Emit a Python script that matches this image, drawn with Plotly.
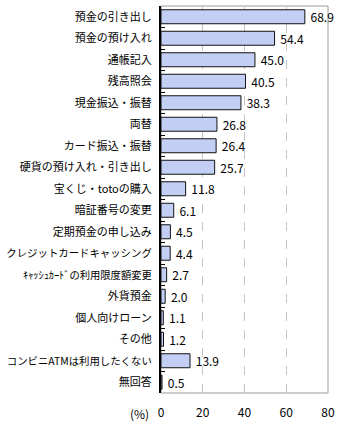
import unicodedata
import plotly.graph_objects as go

categories = [
    "預金の引き出し", "預金の預け入れ", "通帳記入", "残高照会", "現金振込・振替",
    "両替", "カード振込・振替", "硬貨の預け入れ・引き出し", "宝くじ・totoの購入",
    "暗証番号の変更", "定期預金の申し込み", "クレジットカードキャッシング",
    "ｷｬｯｼｭｶｰﾄﾞの利用限度額変更", "外貨預金", "個人向けローン", "その他",
    "コンビニATMは利用したくない", "無回答",
]
values = [68.9, 54.4, 45.0, 40.5, 38.3, 26.8, 26.4, 25.7, 11.8, 6.1, 4.5, 4.4,
          2.7, 2.0, 1.1, 1.2, 13.9, 0.5]
x_ticks = [0, 20, 40, 60, 80]

FONT = "Noto Sans CJK JP"
LABEL_SIZE = 11
AVAIL = 146  # pixels available left of the axis


def est_width(s, size):
    w = 0.0
    for ch in s:
        w += 1.0 if unicodedata.east_asian_width(ch) in ("W", "F") else 0.68
    return w * size


def fit_label(s):
    if est_width(s, LABEL_SIZE) <= AVAIL:
        return s
    size = AVAIL / est_width(s, 1.0)
    return f'<span style="font-size:{size:.1f}px">{s}</span>'


ticktext = [fit_label(c) for c in categories]

fig = go.Figure(go.Bar(
    x=values, y=categories, orientation="h",
    marker=dict(color="#c3cef4", line=dict(color="#111111", width=1)),
    text=values, texttemplate=" %{x:.1f}", textposition="outside",
    textfont=dict(family=FONT, size=12, color="#000000"),
    constraintext="none", cliponaxis=False,
))

fig.update_layout(
    width=340, height=425,
    margin=dict(l=161, r=12, t=6, b=32, autoexpand=False),
    paper_bgcolor="white", plot_bgcolor="white",
    bargap=0.35, showlegend=False,
    font=dict(family=FONT, size=11, color="#000000"),
    xaxis=dict(
        range=[0, 80], tickvals=x_ticks, ticktext=[str(v) for v in x_ticks],
        showgrid=True, gridcolor="#c4c4c4", griddash="dash", gridwidth=1,
        zeroline=False, showline=False, ticks="",
        tickfont=dict(family=FONT, size=12), ticklabelstandoff=11,
        fixedrange=True, automargin=False,
    ),
    yaxis=dict(
        autorange="reversed", showline=True, linecolor="#000000", linewidth=2,
        ticks="inside", tickson="boundaries", ticklen=4, tickcolor="#000000",
        tickwidth=1, showgrid=False, ticklabelstandoff=5, automargin=False,
        tickmode="array", tickvals=categories, ticktext=ticktext,
        tickfont=dict(family=FONT, size=LABEL_SIZE),
    ),
    shapes=[dict(type="rect", xref="paper", yref="paper", x0=0, x1=1, y0=0, y1=1,
                 line=dict(color="#9a9a9a", width=1), layer="below")],
    annotations=[dict(text="(%)", xref="paper", yref="paper", x=0, y=0,
                      xanchor="right", yanchor="middle", xshift=-10, yshift=-20,
                      showarrow=False, font=dict(family=FONT, size=12))],
)

fig.write_html("out.html")
